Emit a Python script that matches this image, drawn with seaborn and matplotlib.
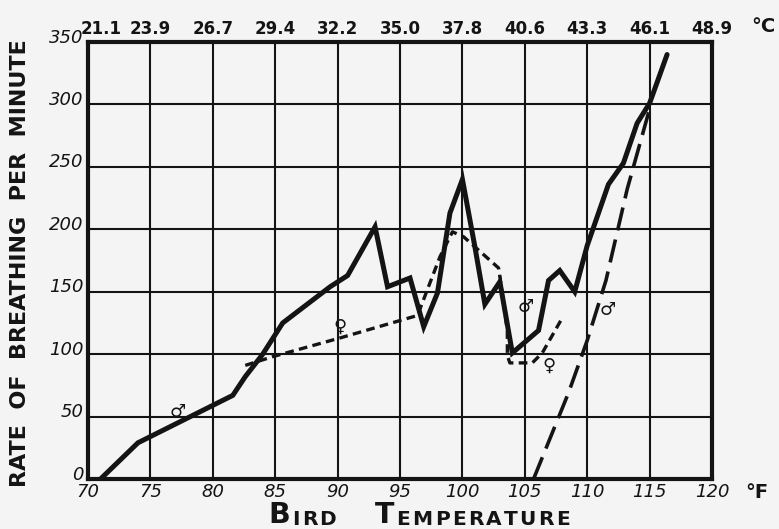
import matplotlib
matplotlib.use("Agg")
import matplotlib.pyplot as plt
import matplotlib.transforms as mtransforms
import pandas as pd
import seaborn as sns

# Axis scales
fahrenheit_ticks = [70, 75, 80, 85, 90, 95, 100, 105, 110, 115, 120]
celsius_labels = ["21.1", "23.9", "26.7", "29.4", "32.2", "35.0",
                  "37.8", "40.6", "43.3", "46.1", "48.9"]
rate_ticks = [0, 50, 100, 150, 200, 250, 300, 350]

# Male bird (solid curve)
male_temp = [71.0, 74.0, 81.6, 82.6, 84.0, 85.6, 89.4, 90.8, 93.0, 94.0,
             95.8, 96.9, 98.0, 99.0, 100.0, 101.0, 101.8, 103.0, 104.0,
             106.1, 106.9, 107.8, 109.0, 110.0, 111.7, 112.9, 114.0,
             115.0, 116.4]
male_rate = [0, 29, 67, 82, 100, 125, 154, 163, 202, 154,
             161, 122, 149, 213, 240, 186, 140, 158, 101,
             119, 159, 167, 150, 187, 236, 253, 285,
             301, 340]

# Female bird (short dashes)
female_temp = [82.6, 84.8, 90.2, 96.4, 98.2, 99.2, 100.1, 102.9, 103.6,
               103.6, 103.8, 105.6, 106.4, 108.0]
female_rate = [91, 98, 113, 131, 178, 198, 194, 169, 119,
               99, 93, 93, 101, 129]

# Second male bird (long dashes)
male2_temp = [105.7, 108.5, 110.0, 111.5, 113.2, 115.1]
male2_rate = [0, 69, 111, 159, 232, 300]

# Sex symbols and where they sit
symbol_text = ["\u2642", "\u2640", "\u2642", "\u2640", "\u2642"]
symbol_x = [77.2, 90.2, 105.1, 106.9, 111.6]
symbol_y = [54, 122, 138, 91, 135]

ink = "#141414"
paper = "#f4f4f4"

sns.set_theme(style="white")
plt.rcParams["font.family"] = ["DejaVu Sans"]

fig = plt.figure(figsize=(7.79, 5.29), dpi=100)
fig.patch.set_facecolor(paper)
ax = fig.add_axes([0.113, 0.0945, 0.801, 0.826])
ax.set_facecolor(paper)

male = pd.DataFrame({"temp": male_temp, "rate": male_rate})
female = pd.DataFrame({"temp": female_temp, "rate": female_rate})
male2 = pd.DataFrame({"temp": male2_temp, "rate": male2_rate})

sns.lineplot(data=male, x="temp", y="rate", ax=ax, sort=False,
             estimator=None, color=ink, linewidth=3.6,
             solid_joinstyle="miter", zorder=4)
sns.lineplot(data=female, x="temp", y="rate", ax=ax, sort=False,
             estimator=None, color=ink, linewidth=2.4,
             linestyle=(0, (2.6, 1.6)), zorder=3)
sns.lineplot(data=male2, x="temp", y="rate", ax=ax, sort=False,
             estimator=None, color=ink, linewidth=2.6,
             linestyle=(0, (6.5, 2.6)), zorder=3)

for s, sx, sy in zip(symbol_text, symbol_x, symbol_y):
    ax.text(sx, sy, s, fontsize=13, fontweight="bold", color=ink,
            ha="center", va="center", zorder=5)

ax.set_xlim(70, 120)
ax.set_ylim(0, 350)
ax.set_xticks(fahrenheit_ticks)
ax.set_yticks(rate_ticks)
ax.set_xticklabels([str(t) for t in fahrenheit_ticks])
ax.set_yticklabels([str(t) for t in rate_ticks])
ax.set_xlabel("")
ax.set_ylabel("")
ax.grid(True, color=ink, linewidth=1.5)
ax.set_axisbelow(True)
for sp in ax.spines.values():
    sp.set_visible(True)
    sp.set_color(ink)
    sp.set_linewidth(3.0)
ax.tick_params(axis="both", length=0, labelsize=13, colors=ink)
ax.tick_params(axis="x", pad=3)
ax.tick_params(axis="y", pad=3)
for lbl in ax.get_xticklabels() + ax.get_yticklabels():
    lbl.set_fontstyle("italic")

# Rate labels sit a little above their grid lines
raise_up = mtransforms.ScaledTranslation(0, 0.065, fig.dpi_scale_trans)
for lbl in ax.get_yticklabels():
    lbl.set_transform(lbl.get_transform() + raise_up)

# Celsius scale along the top
top = ax.twiny()
top.set_xlim(70, 120)
top.set_xticks(fahrenheit_ticks)
top.set_xticklabels(celsius_labels)
top.tick_params(axis="x", length=0, labelsize=12, pad=3, colors=ink)
for lbl in top.get_xticklabels():
    lbl.set_fontweight("bold")
top.grid(False)
for sp in top.spines.values():
    sp.set_visible(False)

# Nudge the first Celsius label clear of the "350"
first = top.get_xticklabels()[0]
first.set_transform(first.get_transform() +
                    mtransforms.ScaledTranslation(0.13, 0, fig.dpi_scale_trans))

fig.text(763 / 779, 1 - 27 / 529, "\u00b0C", fontsize=14, fontweight="bold",
         color=ink, ha="center", va="center")
fig.text(757 / 779, 1 - 493 / 529, "\u00b0F", fontsize=14, fontweight="bold",
         color=ink, ha="center", va="center")

fig.text(20 / 779, 1 - 263 / 529, "RATE  OF  BREATHING  PER  MINUTE",
         rotation=90, fontsize=16, fontweight="bold", color=ink,
         ha="center", va="center")

# Small-caps style axis title: big initials, smaller remaining letters
x0 = 268 / 779
y0 = 1 - 523 / 529
prev = None
for word in ["BIRD", "TEMPERATURE"]:
    for ci, ch in enumerate(word):
        size = 20.5 if ci == 0 else 14.5
        if prev is None:
            prev = fig.text(x0, y0, ch, fontsize=size, fontweight="bold",
                            color=ink, ha="left", va="baseline")
        else:
            gap = 1.6 if ci > 0 else 28
            prev = ax.annotate(ch, xy=(1, 0), xycoords=prev,
                               xytext=(gap, 0), textcoords="offset points",
                               fontsize=size, fontweight="bold", color=ink,
                               ha="left", va="bottom", annotation_clip=False)

fig.savefig("out.png", dpi=100, facecolor=paper)
